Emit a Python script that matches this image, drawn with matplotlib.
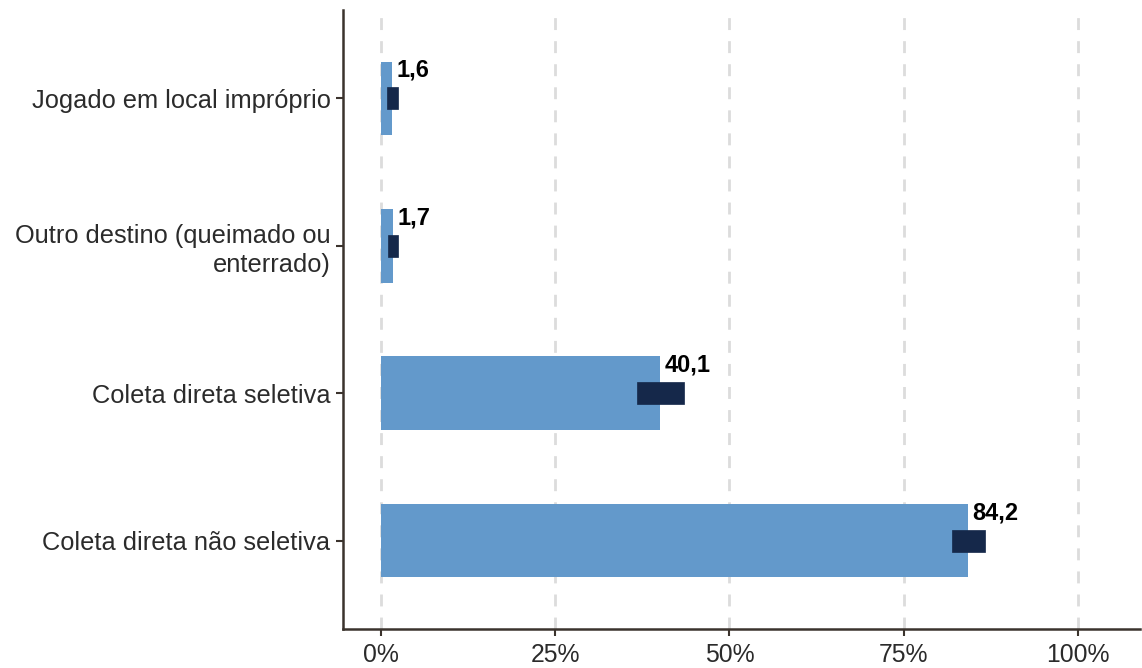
import matplotlib
matplotlib.use("Agg")
import matplotlib.pyplot as plt
from matplotlib.patches import Rectangle
from matplotlib.ticker import FuncFormatter


categories = [
    "Coleta direta não seletiva",
    "Coleta direta seletiva",
    "Outro destino (queimado ou\nenterrado)",
    "Jogado em local impróprio",
]
values = [84.2, 40.1, 1.7, 1.6]
ci_low = [81.9, 36.7, 1.0, 0.8]
ci_high = [86.6, 43.5, 2.4, 2.4]
value_labels = ["84,2", "40,1", "1,7", "1,6"]
x_ticks = [0, 25, 50, 75, 100]

BAR_COLOR = "#6399CB"
CI_COLOR = "#15284A"
AXIS_COLOR = "#3B332D"

plt.rcParams["font.family"] = ["Liberation Sans", "DejaVu Sans"]

fig = plt.figure(figsize=(11.42, 6.68), dpi=100)
ax = fig.add_axes([343 / 1142, 1 - 629 / 668, (1140 - 343) / 1142, (629 - 10) / 668])

ypos = list(range(1, len(categories) + 1))

for x in x_ticks:
    ax.axvline(x, color="#DCDCDC", linewidth=2, linestyle=(0, (4.3, 4)), zorder=0)

ax.barh(ypos, values, height=0.5, color=BAR_COLOR, zorder=2)

for y, lo, hi in zip(ypos, ci_low, ci_high):
    ax.add_patch(Rectangle((lo, y - 0.075), hi - lo, 0.15, facecolor=CI_COLOR,
                           edgecolor=CI_COLOR, linewidth=0.5, zorder=3))

for y, v, lab in zip(ypos, values, value_labels):
    ax.text(v + 0.6, y + 0.19, lab, fontsize=17, fontweight="bold",
            ha="left", va="center", color="black", zorder=4)

ax.set_xlim(-5.45, 108.9)
ax.set_ylim(0.4, 4.6)
ax.set_yticks(ypos)
ax.set_yticklabels(categories, fontsize=18.3, color="#2B2B2B", linespacing=1.25)
ax.set_xticks(x_ticks)
ax.xaxis.set_major_formatter(FuncFormatter(lambda v, p: f"{v:.0f}%"))
ax.tick_params(axis="x", labelsize=17.8, labelcolor="#2B2B2B", length=5, width=1.5,
               color=AXIS_COLOR, pad=5)
ax.tick_params(axis="y", length=5, width=1.5, color=AXIS_COLOR, pad=4)

for side in ["top", "right"]:
    ax.spines[side].set_visible(False)
for side in ["left", "bottom"]:
    ax.spines[side].set_color(AXIS_COLOR)
    ax.spines[side].set_linewidth(1.8)

fig.savefig("out.png", dpi=100)
